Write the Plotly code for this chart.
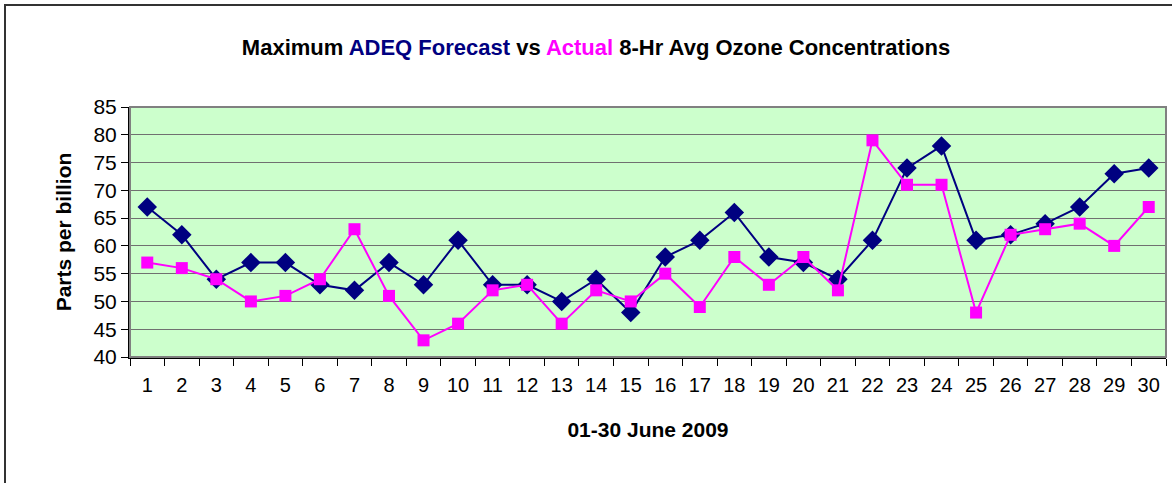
import plotly.graph_objects as go

days = [str(d) for d in range(1, 31)]

forecast = [67, 62, 54, 57, 57, 53, 52, 57, 53, 61,
            53, 53, 50, 54, 48, 58, 61, 66, 58, 57,
            54, 61, 74, 78, 61, 62, 64, 67, 73, 74]

actual = [57, 56, 54, 50, 51, 54, 63, 51, 43, 46,
          52, 53, 46, 52, 50, 55, 49, 58, 53, 58,
          52, 79, 71, 71, 48, 62, 63, 64, 60, 67]

y_ticks = [40, 45, 50, 55, 60, 65, 70, 75, 80, 85]

W, H = 1172, 483
L, R, T, B = 130, 6, 107, 126

fig = go.Figure()

fig.add_trace(go.Scatter(
    x=days, y=forecast, mode='lines+markers', name='ADEQ Forecast',
    line=dict(color='#000080', width=2),
    marker=dict(symbol='diamond', size=15, color='#000080'),
))
fig.add_trace(go.Scatter(
    x=days, y=actual, mode='lines+markers', name='Actual',
    line=dict(color='#FF00FF', width=2),
    marker=dict(symbol='square', size=12, color='#FF00FF'),
))

pw = W - L - R
ph = H - T - B

# outer chart border (open on right/bottom like the original crop)
fig.add_shape(type='rect', xref='paper', yref='paper',
              x0=(5 - L) / pw, x1=(W + 10 - L) / pw,
              y0=-(H + 10 - (H - B)) / ph, y1=(H - B - 5) / ph,
              line=dict(color='#333333', width=2), layer='below')

# plot area frame
fig.add_shape(type='rect', xref='paper', yref='paper', x0=0, x1=1, y0=0, y1=1,
              line=dict(color='#808080', width=2))

title = ("<b>Maximum <span style='color:#000080'>ADEQ Forecast</span> vs "
         "<span style='color:#FF00FF'>Actual</span> 8-Hr Avg Ozone Concentrations</b>")

fig.update_layout(
    width=W, height=H,
    margin=dict(l=L, r=R, t=T, b=B, autoexpand=False),
    paper_bgcolor='white',
    plot_bgcolor='#CCFFCC',
    showlegend=False,
    font=dict(family='Liberation Sans, Arial', color='black', size=16),
    title=dict(text=title, x=596 / W, xanchor='center', y=1 - 47 / H, yanchor='middle',
               font=dict(size=22, color='black')),
    xaxis=dict(
        type='category', categoryorder='array', categoryarray=days,
        range=[-0.5, 29.5], automargin=False,
        tickson='boundaries', ticks='outside', ticklen=7, tickcolor='black',
        ticklabelstandoff=9,
        showline=True, linecolor='black', linewidth=2,
        showgrid=False, tickfont=dict(size=20),
        title=dict(text='<b>01-30 June 2009</b>', font=dict(size=21), standoff=27),
    ),
    yaxis=dict(
        range=[40, 85], tickvals=y_ticks, automargin=False,
        ticks='outside', ticklen=7, tickcolor='black',
        showline=True, linecolor='black', linewidth=2,
        showgrid=True, gridcolor='#707070', gridwidth=1,
        zeroline=False, tickfont=dict(size=21),
        title=dict(text='<b>Parts per billion</b>', font=dict(size=21), standoff=16),
    ),
)

# page body has a default 8px margin; drop it so the figure sits at the corner
fig.write_html("out.html", config={'displayModeBar': False},
               post_script="document.body.style.margin='0';")
